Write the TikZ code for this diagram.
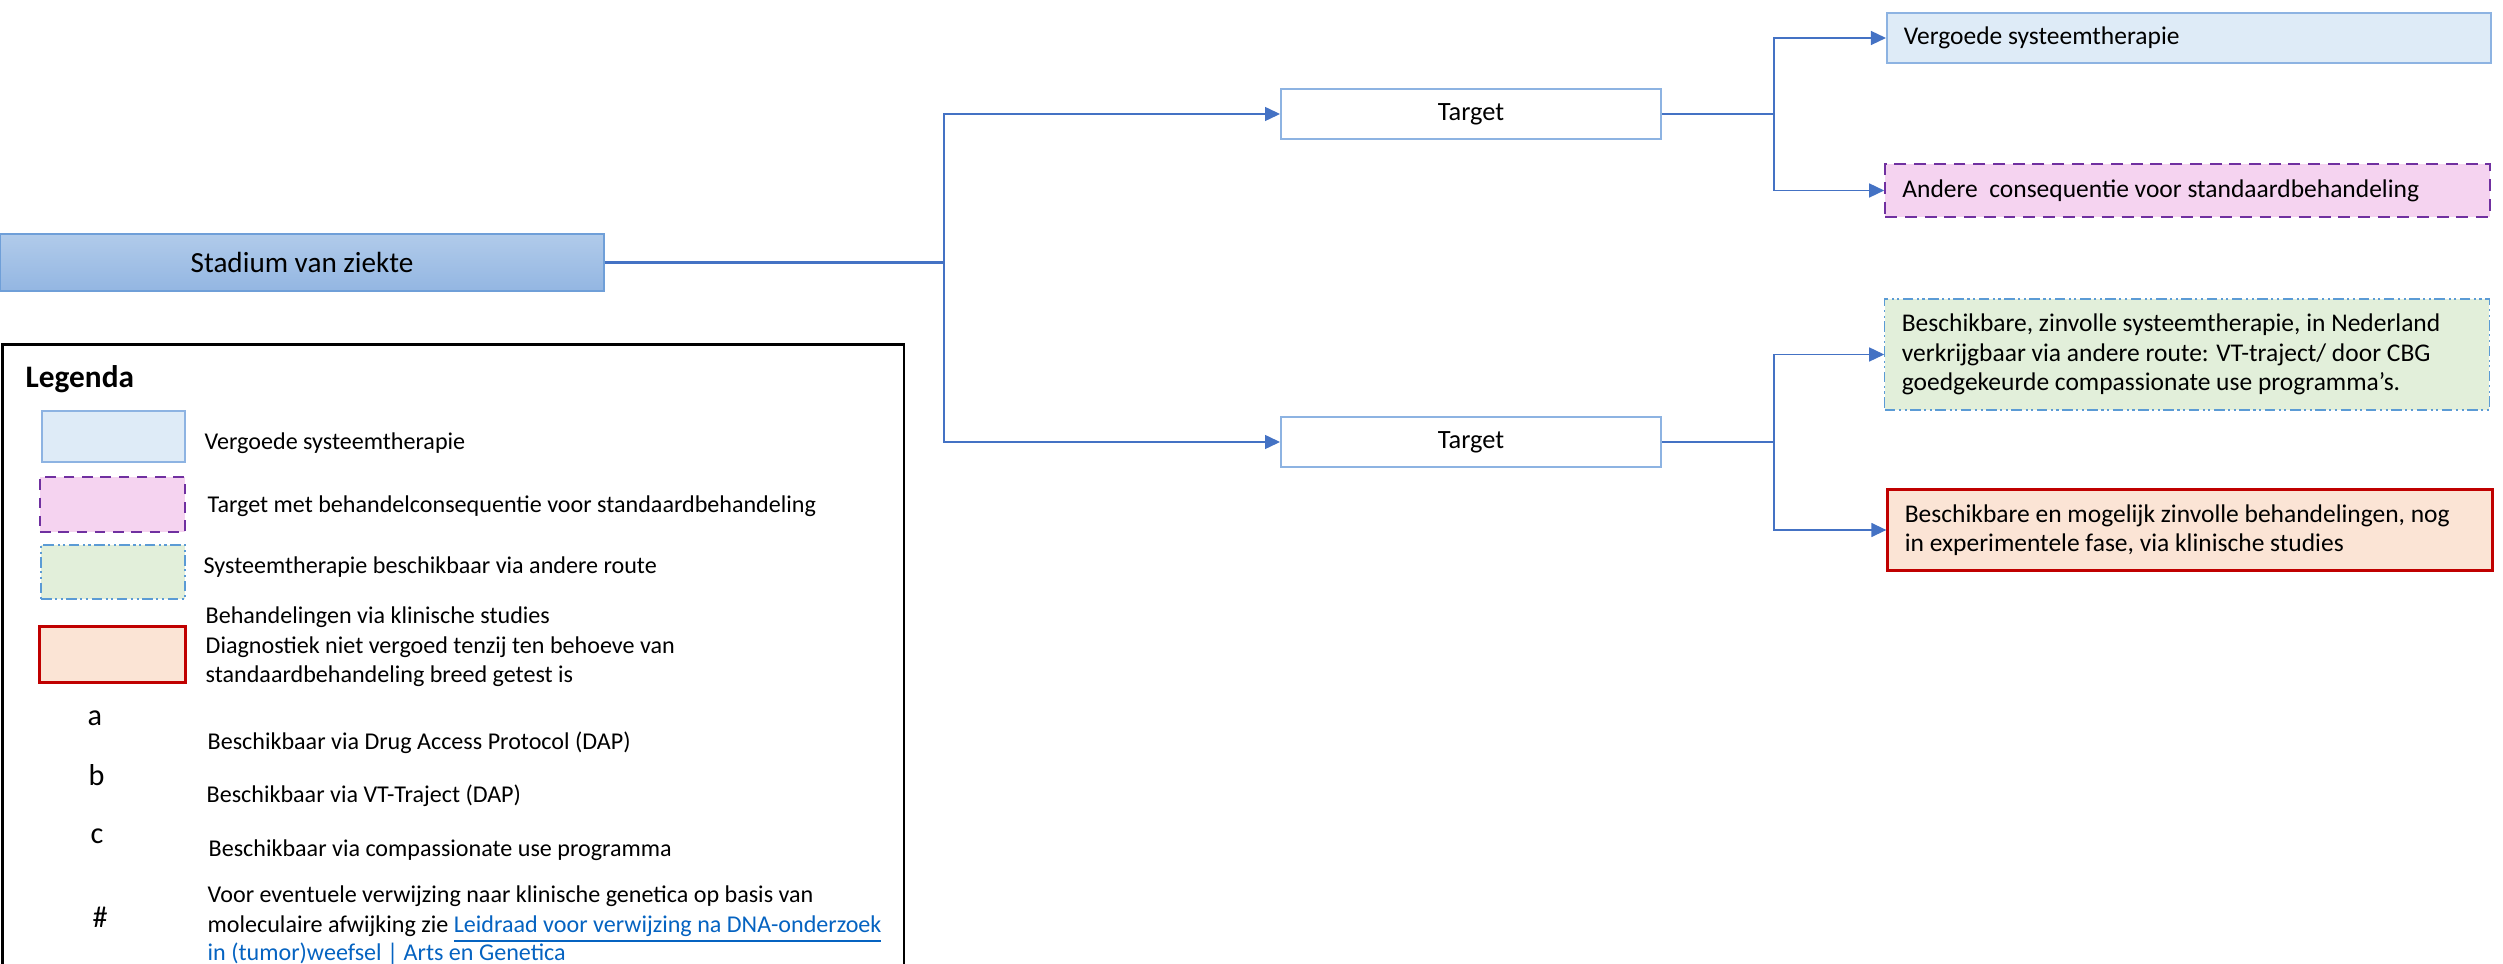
\documentclass[tikz,border=0pt]{standalone}
\usepackage{fontspec}
\setmainfont{Carlito}
\usetikzlibrary{arrows.meta}
\definecolor{conn}{HTML}{4472C4}
\definecolor{lbfill}{HTML}{DEEBF7}
\definecolor{lbdraw}{HTML}{8DB3E2}
\definecolor{pkfill}{HTML}{F5D3F0}
\definecolor{pkdraw}{HTML}{7030A0}
\definecolor{gnfill}{HTML}{E2EFDA}
\definecolor{gndraw}{HTML}{5B9BD5}
\definecolor{rdfill}{HTML}{FBE4D5}
\definecolor{rddraw}{HTML}{C00000}
\definecolor{sttop}{HTML}{B1CBEA}
\definecolor{stbot}{HTML}{93B6E2}
\definecolor{stdraw}{HTML}{6F9FD8}
\definecolor{linkc}{HTML}{0563C1}
\newcommand{\lnk}[1]{\textcolor{linkc}{\underline{#1}}}
\tikzset{
  bigtxt/.style={font=\fontsize{8.3pt}{9.5pt}\selectfont},
  boxtxt/.style={font=\fontsize{7.25pt}{8.4pt}\selectfont},
  tgttxt/.style={font=\fontsize{7.5pt}{8.4pt}\selectfont},
  legtxt/.style={font=\fontsize{6.85pt}{8.3pt}\selectfont, anchor=base west, inner sep=0pt},
  legsym/.style={font=\fontsize{8.6pt}{9pt}\selectfont, anchor=base west, inner sep=0pt},
  stadbox/.style={draw=stdraw, line width=0.6pt, top color=sttop, bottom color=stbot, inner sep=0pt, bigtxt},
  targetbox/.style={draw=lbdraw, line width=0.5pt, fill=white, inner sep=0pt, minimum width=3.80cm, minimum height=0.50cm, tgttxt},
  rbox/.style={inner xsep=0.17cm, inner ysep=0pt, text width=5.70cm, align=flush left, boxtxt},
  bluebox/.style={rbox, draw=lbdraw, line width=0.5pt, fill=lbfill},
  pinkbox/.style={rbox, draw=pkdraw, line width=0.65pt, fill=pkfill, dash pattern=on 3.4pt off 2.2pt},
  greenbox/.style={rbox, draw=gndraw, line width=0.35pt, fill=gnfill, dash pattern=on 3pt off 1pt on 0.6pt off 1pt on 0.6pt off 1pt},
  redbox/.style={rbox, draw=rddraw, line width=0.85pt, fill=rdfill},
  swatch/.style={inner sep=0pt},
  connmain/.style={draw=conn, line width=0.6pt},
  connthin/.style={draw=conn, line width=0.4pt},
  connout/.style={draw=conn, line width=0.75pt},
  arr/.style={-{Triangle[length=0.15cm, width=0.14cm]}},
}
\begin{document}
\begin{tikzpicture}[x=0.01cm, y=-0.01cm]
\useasboundingbox (0,0) rectangle (2503,964);

% main nodes
\node[stadbox, minimum width=6.03cm, minimum height=0.57cm] (st) at (302,262.5) {Stadium van ziekte};
\node[targetbox] (t1) at (1471,114) {Target};
\node[targetbox] (t2) at (1471,442) {Target};

\node[bluebox, minimum height=0.50cm] (vg) at (2189,38) {Vergoede systeemtherapie};
\node[pinkbox, minimum height=0.53cm] (ac) at (2187.5,190.5) {Andere~ consequentie voor standaardbehandeling};
\node[greenbox, minimum height=1.11cm] (bz) at (2187,354.5) {Beschikbare, zinvolle systeemtherapie, in Nederland\\verkrijgbaar via andere route: VT-traject/ door CBG\\goedgekeurde compassionate use programma’s.};
\node[redbox, minimum height=0.80cm] (bm) at (2190,530) {Beschikbare en mogelijk zinvolle behandelingen, nog\\in experimentele fase, via klinische studies};

% connectors
\coordinate (j1) at (944,0);
\coordinate (j2) at (1774,0);
\draw[connmain] (st.east) -- (st.east -| j1);
\draw[connthin, arr] (st.east -| j1) |- (t1.west);
\draw[connthin, arr] (st.east -| j1) |- (t2.west);
\draw[connout] (t1.east) -- (t1.east -| j2);
\draw[connthin, arr] (t1.east -| j2) |- (vg.west);
\draw[connthin, arr] (t1.east -| j2) |- (ac.west);
\draw[connout] (t2.east) -- (t2.east -| j2);
\draw[connthin, arr] (t2.east -| j2) |- (bz.west);
\draw[connthin, arr] (t2.east -| j2) |- (bm.west);

% legend
\node[draw=black, line width=0.75pt, inner sep=0pt, minimum width=9.01cm, minimum height=6.30cm, anchor=north west] (legend) at (1.3,343) {};
\node[font=\fontsize{8.9pt}{10pt}\selectfont\bfseries, anchor=base west, inner sep=0pt] (lgtitle) at (25,388) {Legenda};

\node[swatch, draw=lbdraw, line width=0.5pt, fill=lbfill, minimum width=1.43cm, minimum height=0.51cm] (sw1) at (113.5,436.5) {};
\node[swatch, draw=pkdraw, line width=0.65pt, fill=pkfill, dash pattern=on 3pt off 2.2pt, minimum width=1.45cm, minimum height=0.55cm] (sw2) at (112.5,504.5) {};
\node[swatch, draw=gndraw, line width=0.35pt, fill=gnfill, dash pattern=on 3pt off 1pt on 0.6pt off 1pt on 0.6pt off 1pt, minimum width=1.44cm, minimum height=0.54cm] (sw3) at (113,572) {};
\node[swatch, draw=rddraw, line width=0.85pt, fill=rdfill, minimum width=1.45cm, minimum height=0.55cm] (sw4) at (112.5,654.5) {};

\node[legtxt] (l1) at (204,450) {Vergoede systeemtherapie};
\node[legtxt] (l2) at (207,512) {Target met behandelconsequentie voor standaardbehandeling};
\node[legtxt] (l3) at (203,573) {Systeemtherapie beschikbaar via andere route};
\node[legtxt] (l4a) at (205,623) {Behandelingen via klinische studies};
\node[legtxt] (l4b) at (205,653) {Diagnostiek niet vergoed tenzij ten behoeve van};
\node[legtxt] (l4c) at (205,682) {standaardbehandeling breed getest is};

\node[legsym] (sa) at (87,725) {a};
\node[legtxt] (la) at (207,749) {Beschikbaar via Drug Access Protocol (DAP)};
\node[legsym] (sb) at (88,785) {b};
\node[legtxt] (lb) at (206,802) {Beschikbaar via VT-Traject (DAP)};
\node[legsym] (sc) at (90,843) {c};
\node[legtxt] (lc) at (208,856) {Beschikbaar via compassionate use programma};
\node[legsym] (sh) at (92,927) {\#};
\node[legtxt] (lh1) at (207,902) {Voor eventuele verwijzing naar klinische genetica op basis van};
\node[legtxt] (lh2) at (207,932) {moleculaire afwijking zie \lnk{Leidraad voor verwijzing na DNA-onderzoek}};
\node[legtxt] (lh3) at (207,960) {\lnk{in (tumor)weefsel | Arts en Genetica}};
\end{tikzpicture}
\end{document}
